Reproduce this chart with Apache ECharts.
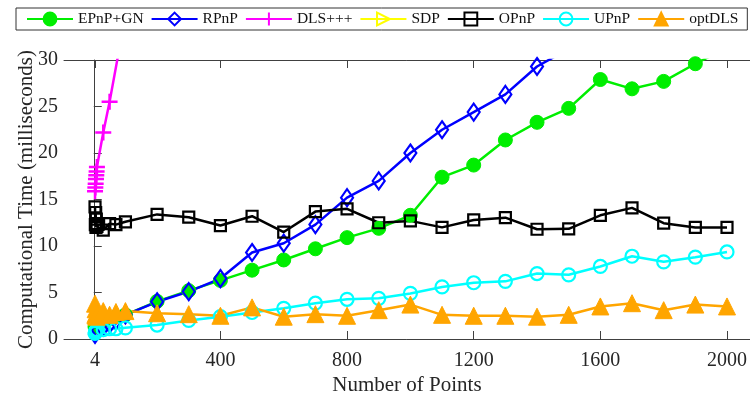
<!DOCTYPE html>
<html>
<head>
<meta charset="utf-8">
<script src="https://cdn.jsdelivr.net/npm/echarts@6/dist/echarts.min.js"></script>
<style>html,body{margin:0;padding:0;background:#fff;}#c{width:750px;height:401px;}</style>
</head>
<body>
<div id="c"></div>
<script>
const xs = [4,5,6,7,8,9,10,30,50,70,100,200,300,400,500,600,700,800,900,1000,1100,1200,1300,1400,1500,1600,1700,1800,1900,2000];
const epnpGN = [1.3,1.4,1.5,1.6,1.7,1.8,1.9,2.0,2.2,2.4,2.6,4.05,5.2,6.3,7.4,8.5,9.7,10.9,11.9,13.3,17.4,18.7,21.4,23.3,24.8,27.9,26.9,27.7,29.6,31.3];
const rpnp = [0.5,0.7,0.8,0.9,1.0,1.0,1.1,1.3,1.6,2.0,2.6,4.0,5.1,6.5,9.3,10.3,12.3,15.2,17.0,20.0,22.5,24.4,26.3,29.3,31.2,null,null,null,null,null];
const dlsX = [4,5,6,7,8,9,10,30,50,100];
const dlsY = [15.9,16.3,16.7,17.2,17.6,18.0,18.5,22.2,25.5,34.8];
const sdp = [];
const opnp = [14.2,12.3,13.6,12.0,12.9,12.4,12.1,11.7,12.4,12.3,12.6,13.4,13.1,12.2,13.2,11.5,13.7,14.0,12.5,12.7,12.0,12.8,13.05,11.8,11.85,13.3,14.1,12.45,12.0,12.0];
const upnp = [0.6,0.7,0.8,0.8,0.9,0.9,1.0,1.0,1.1,1.1,1.2,1.5,2.0,2.4,2.85,3.3,3.85,4.27,4.37,4.9,5.6,6.05,6.2,7.04,6.9,7.8,8.9,8.3,8.8,9.36];
const optdls = [3.8,2.6,3.2,2.5,2.8,2.4,2.7,3.0,2.6,2.9,3.0,2.77,2.67,2.5,3.4,2.4,2.67,2.5,3.1,3.7,2.6,2.5,2.5,2.4,2.6,3.5,3.85,3.1,3.7,3.5];
const xTicks = [4,400,800,1200,1600,2000];
const yTicks = [0,5,10,15,20,25,30];

const FONT = "'Liberation Serif','Times New Roman',serif";
const AX = '#404040';
const pair = (xa, ya) => xa.map((x, i) => [x, ya[i]]);

function mk(name, color, data, symbol, size, filled, extra) {
  return Object.assign({
    name: name, type: 'line', data: data, symbol: symbol, symbolSize: size,
    showAllSymbol: true, animation: false, clip: true,
    lineStyle: {color: color, width: 2.5},
    itemStyle: filled ? {color: color, borderColor: color, borderWidth: 1}
                      : {color: 'rgba(255,255,255,0)', borderColor: color, borderWidth: 2.2},
    emphasis: {disabled: true}
  }, extra || {});
}

const chart = echarts.init(document.getElementById('c'), null, {renderer: 'canvas'});
chart.setOption({
  animation: false,
  backgroundColor: '#fff',
  textStyle: {fontFamily: FONT},
  grid: {left: 64, right: 0, top: 60, bottom: 60, containLabel: false},
  legend: {
    left: 16, top: 8, padding: [3, 9, 3, 10], itemGap: 7, itemWidth: 46, itemHeight: 16,
    borderColor: '#333', borderWidth: 1,
    textStyle: {fontFamily: FONT, fontSize: 15.5, color: '#111'},
    data: ['EPnP+GN','RPnP','DLS+++','SDP','OPnP','UPnP','optDLS']
  },
  xAxis: [{
    type: 'value', min: -94, max: 2072, position: 'bottom',
    name: 'Number of Points', nameLocation: 'middle', nameGap: 36, nameMoveOverlap: false,
    nameTextStyle: {fontFamily: FONT, fontSize: 21, color: '#262626'},
    axisLine: {show: true, onZero: false, lineStyle: {color: AX, width: 1}},
    axisTick: {show: true, inside: true, length: 8, customValues: xTicks, lineStyle: {color: AX}},
    axisLabel: {customValues: xTicks, fontFamily: FONT, fontSize: 20, color: '#262626', margin: 12,
      formatter: v => String(v)},
    splitLine: {show: false}
  }, {
    type: 'value', min: -94, max: 2072, position: 'top',
    axisLine: {show: true, onZero: false, lineStyle: {color: AX, width: 1}},
    axisTick: {show: true, inside: true, length: 8, customValues: xTicks, lineStyle: {color: AX}},
    axisLabel: {show: false}, splitLine: {show: false}
  }],
  yAxis: [{
    type: 'value', min: 0, max: 30, interval: 5,
    name: 'Computational Time (milliseconds)', nameLocation: 'middle', nameGap: 27, nameMoveOverlap: false,
    nameTextStyle: {fontFamily: FONT, fontSize: 21, color: '#262626'},
    axisLine: {show: true, lineStyle: {color: AX, width: 1}},
    axisTick: {show: true, inside: true, length: 8, lineStyle: {color: AX}},
    axisLabel: {fontFamily: FONT, fontSize: 20, color: '#262626', margin: 6,
      formatter: v => yTicks.includes(v) ? String(v) : ''},
    splitLine: {show: false}
  }],
  series: [
    mk('EPnP+GN', '#00ee00', pair(xs, epnpGN), 'circle', 14, true),
    mk('RPnP', '#0000ff', pair(xs, rpnp), 'diamond', [12, 17], false),
    mk('DLS+++', '#ff00ff', pair(dlsX, dlsY), 'path://M0 5 L10 5 M5 0 L5 10', 16, false,
       {itemStyle: {color: 'rgba(255,255,255,0)', borderColor: '#ff00ff', borderWidth: 2.5}}),
    mk('SDP', '#ffff00', sdp, 'triangle', 14, false, {symbolRotate: -90}),
    mk('OPnP', '#000000', pair(xs, opnp), 'rect', 11, false),
    mk('UPnP', '#00ffff', pair(xs, upnp), 'circle', 13, false),
    mk('optDLS', '#ffa500', pair(xs, optdls), 'triangle', 17, true)
  ]
});
</script>
</body>
</html>
